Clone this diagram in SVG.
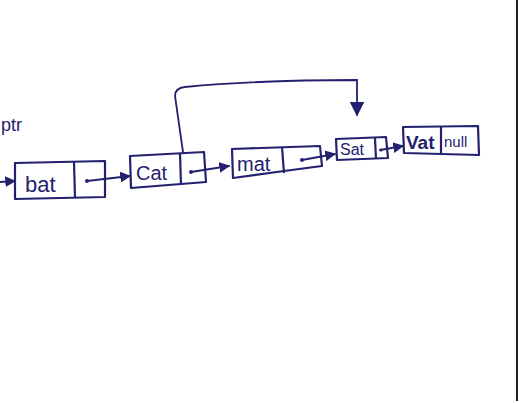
<svg xmlns="http://www.w3.org/2000/svg" width="519" height="403" viewBox="0 0 519 403">
<style>
.box{fill:none;stroke:#23216e;stroke-width:2.2;stroke-linejoin:round}
.ln{fill:none;stroke:#23216e;stroke-width:1.8;stroke-linecap:round}
.t{font-family:"Liberation Sans",Arial,sans-serif;fill:#23216e}
.dot{fill:#23216e}
</style>
<defs>
<marker id="ah" viewBox="0 0 10 10" refX="9" refY="5" markerWidth="6" markerHeight="6" orient="auto" markerUnits="strokeWidth">
<path d="M0,0 L10,5 L0,10 Z" fill="#23216e"/>
</marker>
<marker id="big" viewBox="0 0 10 10" refX="9" refY="5" markerWidth="8" markerHeight="8" orient="auto" markerUnits="strokeWidth">
<path d="M0,0 L10,5 L0,10 Z" fill="#23216e"/>
</marker>
</defs>
<rect width="519" height="403" fill="#ffffff"/>
<line x1="517" y1="0" x2="517" y2="401" stroke="#222" stroke-width="2"/>
<text class="t" x="1" y="131" font-size="18">ptr</text>
<g id="connectors">
<path class="ln" d="M0,182 L15,181" marker-end="url(#ah)"/>
<path class="ln" d="M87,181 L130,176" marker-end="url(#ah)"/>
<path class="ln" d="M191,172 L229,166" marker-end="url(#ah)"/>
<path class="ln" d="M302,160 L335,154" marker-end="url(#ah)"/>
<path class="ln" d="M380,150 L403,146" marker-end="url(#ah)"/>
<path class="ln" d="M183,152 L175,96 Q175,88 185,87 Q260,80 357,80 L357,115" marker-end="url(#big)"/>
</g>
<g id="node-bat">
<path class="box" d="M15,163 L105,161 L105,197 L15,199 Z"/>
<path class="box" d="M74,162 L75,198"/>
<text class="t" x="25" y="192" font-size="22">bat</text>
<circle class="dot" cx="87" cy="181" r="2"/>
</g>
<g id="node-cat">
<path class="box" d="M130,156 L204,152 L206,182 L131,188 Z"/>
<path class="box" d="M180,154 L181,185"/>
<text class="t" x="136" y="180" font-size="20">Cat</text>
<circle class="dot" cx="191" cy="172" r="2"/>
</g>
<g id="node-mat">
<path class="box" d="M232,149 L320,146 L322,166 L284,171 L233,178 Z"/>
<path class="box" d="M282,147 L284,173"/>
<text class="t" x="237" y="171" font-size="20">mat</text>
<circle class="dot" cx="302" cy="160" r="2"/>
</g>
<g id="node-sat">
<path class="box" d="M336,139 L386,137 L388,158 L337,160 Z"/>
<path class="box" d="M375,138 L376,159"/>
<text class="t" x="340" y="155" font-size="16">Sat</text>
<circle class="dot" cx="381" cy="150" r="1.6"/>
</g>
<g id="node-vat">
<path class="box" d="M403,127 L478,126 L479,155 L404,153 Z"/>
<path class="box" d="M441,127 L441,154"/>
<text class="t" x="406" y="149" font-size="19" font-weight="bold">Vat</text>
<text class="t" x="444" y="147" font-size="15">null</text>
</g>
</svg>
